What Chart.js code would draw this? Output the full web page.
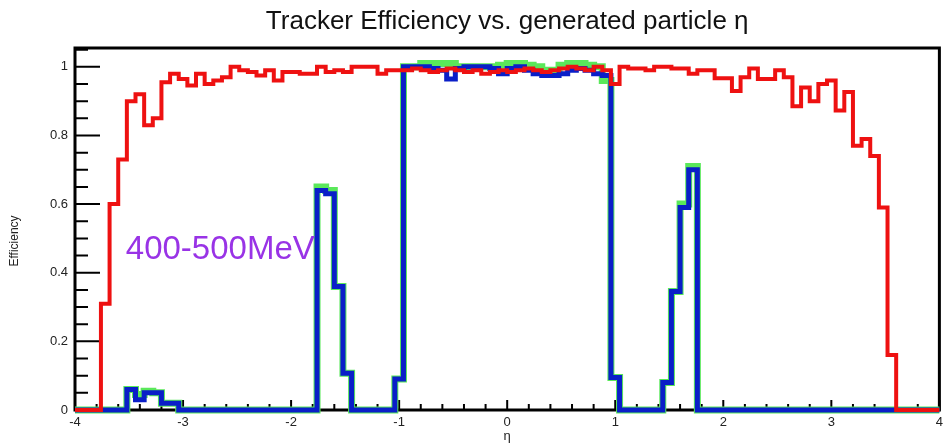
<!DOCTYPE html>
<html lang="en">
<head>
    <meta charset="UTF-8">
    <title>Tracker Efficiency vs. generated particle η</title>
    <script src="https://cdn.jsdelivr.net/npm/chart.js"></script>
    <style>
        body { margin: 0; background: #fff; }
        #wrap { width: 948px; height: 444px; }
    </style>
</head>
<body>
    <div id="wrap"><canvas id="effChart" width="948" height="444"></canvas></div>

    <script>
        // --- Binning: 100 bins in eta, -4 .. 4 ---
        const etaLow = -4;
        const etaHigh = 4;
        const binWidth = 0.08;

        const xTicks = [-4, -3, -2, -1, 0, 1, 2, 3, 4];
        const yTicks = [0, 0.2, 0.4, 0.6, 0.8, 1];

        // red: efficiency, all tracks
        const effRed = [
            0, 0, 0, 0.31, 0.60, 0.73, 0.90, 0.92, 0.83, 0.85,
            0.955, 0.98, 0.965, 0.946, 0.98, 0.95, 0.96, 0.97, 1.0, 0.99,
            0.985, 0.975, 0.99, 0.96, 0.985, 0.985, 0.98, 0.98, 1.0, 0.985,
            0.99, 0.985, 1.0, 1.0, 1.0, 0.98, 0.99, 0.99, 0.99, 0.995,
            0.99, 0.985, 0.99, 0.995, 0.99, 0.985, 0.99, 0.98, 0.985, 0.99,
            0.985, 0.99, 0.995, 0.99, 0.985, 0.99, 0.995, 1.0, 0.995, 0.99,
            1.0, 0.99, 0.95, 1.0, 0.995, 0.995, 0.99, 1.0, 1.0, 0.995,
            0.995, 0.98, 0.99, 0.99, 0.967, 0.967, 0.93, 0.97, 0.995, 0.965,
            0.965, 0.99, 0.97, 0.885, 0.94, 0.90, 0.95, 0.96, 0.873, 0.927,
            0.77, 0.79, 0.74, 0.59, 0.16, 0, 0, 0, 0, 0
        ];

        // blue: 400-500 MeV
        const effBlue = [
            0, 0, 0, 0, 0, 0, 0.06, 0.03, 0.05, 0.05,
            0.02, 0.02, 0, 0, 0, 0, 0, 0, 0, 0,
            0, 0, 0, 0, 0, 0, 0, 0, 0.64, 0.63,
            0.36, 0.107, 0, 0, 0, 0, 0, 0.09, 1.0, 1.0,
            1.0, 0.995, 0.99, 0.965, 0.995, 1.0, 1.0, 1.0, 0.995, 0.98,
            0.995, 1.0, 0.99, 0.98, 0.975, 0.975, 0.98, 0.99, 0.995, 0.99,
            0.98, 0.975, 0.095, 0, 0, 0, 0, 0, 0.08, 0.345,
            0.59, 0.70, 0, 0, 0, 0, 0, 0, 0, 0,
            0, 0, 0, 0, 0, 0, 0, 0, 0, 0,
            0, 0, 0, 0, 0, 0, 0, 0, 0, 0
        ];

        // green: 400-500 MeV, second selection
        const effGreen = [
            0, 0, 0, 0, 0, 0, 0.06, 0.045, 0.055, 0.05,
            0.02, 0.02, 0, 0, 0, 0, 0, 0, 0, 0,
            0, 0, 0, 0, 0, 0, 0, 0, 0.65, 0.64,
            0.36, 0.107, 0, 0, 0, 0, 0, 0.09, 1.0, 1.0,
            1.01, 1.01, 1.01, 1.01, 1.0, 1.0, 1.0, 1.0, 1.0, 1.005,
            1.01, 1.01, 1.005, 1.0, 0.99, 0.99, 1.005, 1.01, 1.01, 1.005,
            1.0, 0.96, 0.095, 0, 0, 0, 0, 0, 0.08, 0.345,
            0.60, 0.71, 0, 0, 0, 0, 0, 0, 0, 0,
            0, 0, 0, 0, 0, 0, 0, 0, 0, 0,
            0, 0, 0, 0, 0, 0, 0, 0, 0, 0
        ];

        const titleText = 'Tracker Efficiency vs. generated particle η';
        const yTitleText = 'Efficiency';
        const labelText = '400-500MeV';

        // histogram -> step points (left edges + closing point)
        function toSteps(values) {
            const pts = values.map((v, i) => ({ x: etaLow + i * binWidth, y: v }));
            pts.push({ x: etaHigh, y: values[values.length - 1] });
            return pts;
        }

        const fontFam = '"Liberation Sans", Arial, Helvetica, sans-serif';

        // ROOT-like frame with inward ticks, titles, text label
        const framePlugin = {
            id: 'frame',
            beforeDatasetsDraw(chart) {
                const { ctx, chartArea: a, scales: { x, y } } = chart;
                ctx.save();
                ctx.strokeStyle = '#000';
                ctx.lineWidth = 3;
                ctx.strokeRect(a.left, a.top, a.right - a.left, a.bottom - a.top);
                ctx.lineWidth = 2;
                ctx.beginPath();
                for (let i = -20; i <= 20; i++) {
                    const px = x.getPixelForValue(i * 0.2);
                    const len = i % 5 === 0 ? 10 : 6;
                    ctx.moveTo(px, a.bottom);
                    ctx.lineTo(px, a.bottom - len);
                }
                for (let j = 0; j * 0.05 <= y.max; j++) {
                    const py = y.getPixelForValue(j * 0.05);
                    const len = j % 4 === 0 ? 25 : 13;
                    ctx.moveTo(a.left, py);
                    ctx.lineTo(a.left + len, py);
                }
                ctx.stroke();

                ctx.fillStyle = '#111';
                ctx.font = '26px ' + fontFam;
                ctx.textAlign = 'center';
                ctx.textBaseline = 'middle';
                ctx.fillText(titleText, (a.left + a.right) / 2, 22);

                // y title, rotated, a bit below the frame centre like ROOT
                ctx.fillStyle = '#222';
                ctx.font = '12px ' + fontFam;
                ctx.translate(15, 241);
                ctx.rotate(-Math.PI / 2);
                ctx.fillText(yTitleText, 0, 0);
                ctx.restore();
            },
            afterDatasetsDraw(chart) {
                const { ctx, scales: { x, y } } = chart;
                ctx.save();
                ctx.font = '33px ' + fontFam;
                ctx.fillStyle = '#9933e6';
                ctx.textBaseline = 'alphabetic';
                ctx.fillText(labelText, x.getPixelForValue(-3.53), y.getPixelForValue(0.44));
                ctx.restore();
            }
        };

        const lineStyle = {
            stepped: 'before',
            pointRadius: 0,
            fill: false,
            borderJoinStyle: 'miter',
            borderCapStyle: 'butt',
            clip: 8
        };

        new Chart(document.getElementById('effChart'), {
            type: 'line',
            data: {
                datasets: [
                    { label: 'all', data: toSteps(effRed), borderColor: '#ee1111', borderWidth: 4, order: 0, ...lineStyle },
                    { label: '400-500MeV', data: toSteps(effBlue), borderColor: '#0a1ec8', borderWidth: 5, order: 1, ...lineStyle },
                    { label: '400-500MeV (2)', data: toSteps(effGreen), borderColor: '#5ae85a', borderWidth: 7, order: 2, ...lineStyle }
                ]
            },
            options: {
                responsive: false,
                animation: false,
                layout: { padding: { left: 0, right: 3, top: 48, bottom: 0 } },
                plugins: {
                    legend: { display: false },
                    tooltip: { enabled: false },
                    title: { display: false }
                },
                scales: {
                    x: {
                        type: 'linear',
                        min: etaLow,
                        max: etaHigh,
                        afterFit: s => { s.height = 34; },
                        afterBuildTicks: s => { s.ticks = xTicks.map(v => ({ value: v })); },
                        grid: { display: false, drawTicks: false },
                        border: { display: false },
                        ticks: { color: '#222', padding: 5, maxRotation: 0, font: { size: 13, family: fontFam } },
                        title: { display: true, text: 'η', color: '#222', font: { size: 13, family: fontFam }, padding: 0 }
                    },
                    y: {
                        min: 0,
                        max: 1.055,
                        afterFit: s => { s.width = 75; },
                        afterBuildTicks: s => { s.ticks = yTicks.map(v => ({ value: v })); },
                        grid: { display: false, drawTicks: false },
                        border: { display: false },
                        ticks: { color: '#222', padding: 7, font: { size: 13, family: fontFam }, callback: v => String(+v.toFixed(1)) }
                    }
                }
            },
            plugins: [framePlugin]
        });
    </script>
</body>
</html>
